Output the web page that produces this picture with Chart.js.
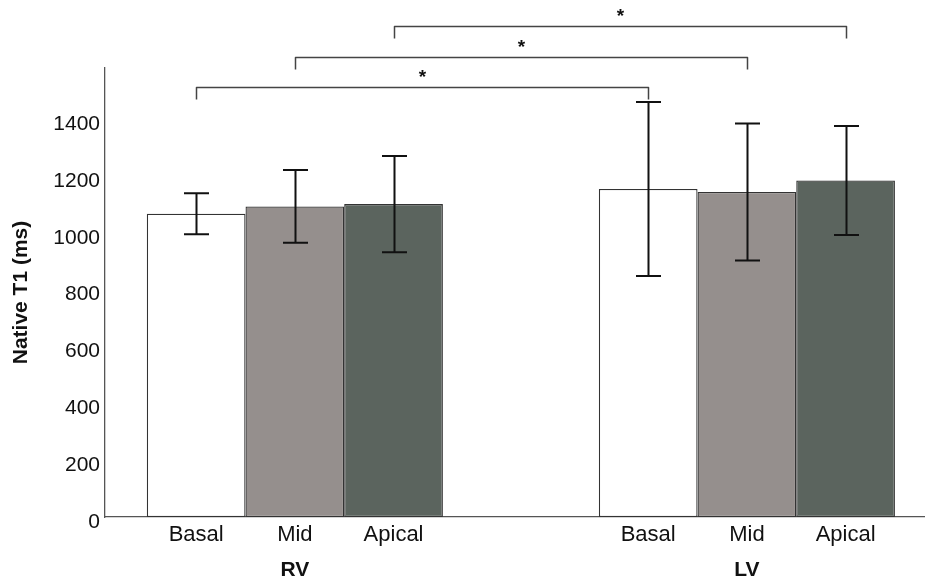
<!DOCTYPE html>
<html>
<head>
<meta charset="utf-8">
<script src="https://cdn.jsdelivr.net/npm/chart.js@4/dist/chart.umd.min.js"></script>
<style>
  html, body { margin: 0; padding: 0; background: #ffffff; }
  #wrap { width: 925px; height: 583px; }
</style>
</head>
<body>
<div id="wrap"><canvas id="c" width="925" height="583"></canvas></div>
<script>
// ---- data ----
const groups = ['RV', 'LV'];
const segments = ['Basal', 'Mid', 'Apical'];
const basalMean = [1067, 1154];
const basalSD = [72, 306];
const midMean = [1093, 1144];
const midSD = [128, 241];
const apicalMean = [1101, 1184];
const apicalSD = [169, 192];
const yTicks = [0, 200, 400, 600, 800, 1000, 1200, 1400];
// significance pairs: same segment, RV vs LV
const sigPairs = [
  { segment: 0, label: '*' },
  { segment: 1, label: '*' },
  { segment: 2, label: '*' }
];

const means = [basalMean, midMean, apicalMean];
const sds = [basalSD, midSD, apicalSD];
const fills = ['#ffffff', '#958f8d', '#5b645e'];
const FONT = '"Liberation Sans", Arial, Helvetica, sans-serif';
const X_MIN = -0.42, X_MAX = 1.394;

const datasets = segments.map((s, k) => ({
  label: s,
  data: means[k].map((v, i) => ({ x: i, y: v })),
  sd: sds[k],
  backgroundColor: fills[k],
  borderColor: '#333333',
  borderWidth: 1.3,
  borderSkipped: false,
  categoryPercentage: 0.655,
  barPercentage: 1.0
}));

const annotPlugin = {
  id: 'annot',
  afterDatasetsDraw(chart) {
    const ctx = chart.ctx;
    const y = chart.scales.y;
    ctx.save();
    ctx.strokeStyle = '#111111';
    ctx.lineWidth = 2;
    chart.data.datasets.forEach((ds, k) => {
      const meta = chart.getDatasetMeta(k);
      meta.data.forEach((bar, i) => {
        const m = ds.data[i].y, sd = ds.sd[i];
        const yt = y.getPixelForValue(m + sd);
        const yb = y.getPixelForValue(m - sd);
        const cx = Math.round(bar.x) + 0.5;
        ctx.beginPath();
        ctx.moveTo(cx, yt); ctx.lineTo(cx, yb);
        ctx.moveTo(cx - 12.5, yt); ctx.lineTo(cx + 12.5, yt);
        ctx.moveTo(cx - 12.5, yb); ctx.lineTo(cx + 12.5, yb);
        ctx.stroke();
      });
    });
    ctx.restore();
  },
  afterDraw(chart, args, opts) {
    const ctx = chart.ctx;
    const ca = chart.chartArea;
    ctx.save();
    // segment labels under bars
    ctx.fillStyle = '#111111';
    ctx.font = '22px ' + FONT;
    ctx.textAlign = 'center';
    ctx.textBaseline = 'middle';
    chart.data.datasets.forEach((ds, k) => {
      chart.getDatasetMeta(k).data.forEach(bar => {
        ctx.fillText(ds.label, bar.x, ca.bottom + 18);
      });
    });
    // significance brackets
    ctx.strokeStyle = '#444444';
    ctx.lineWidth = 1.5;
    ctx.lineJoin = 'round';
    sigPairs.forEach((p, n) => {
      const meta = chart.getDatasetMeta(p.segment);
      const x1 = Math.round(meta.data[0].x) + 0.5;
      const x2 = Math.round(meta.data[1].x) + 0.5;
      const yl = Math.round(ca.top + opts.firstOffset - n * opts.step) + 0.5;
      ctx.beginPath();
      ctx.moveTo(x1, yl + opts.leg);
      ctx.lineTo(x1, yl);
      ctx.lineTo(x2, yl);
      ctx.lineTo(x2, yl + opts.leg);
      ctx.stroke();
      ctx.fillStyle = '#111111';
      ctx.font = 'bold 19px ' + FONT;
      ctx.textBaseline = 'middle';
      ctx.fillText(p.label, (x1 + x2) / 2, yl - 10);
    });
    ctx.restore();
  }
};

new Chart(document.getElementById('c'), {
  type: 'bar',
  data: { datasets },
  options: {
    responsive: false,
    animation: false,
    events: [],
    devicePixelRatio: 1,
    layout: { padding: { top: 68, right: 0, left: 0, bottom: 0 } },
    plugins: {
      legend: { display: false },
      tooltip: { enabled: false },
      annot: { firstOffset: 19, step: 30.5, leg: 12 }
    },
    scales: {
      x: {
        type: 'linear',
        min: X_MIN,
        max: X_MAX,
        offset: false,
        bounds: 'data',
        grid: { display: false, offset: false },
        border: { display: true, color: '#555555', width: 1.3 },
        afterDataLimits: (scale) => { scale.min = X_MIN; scale.max = X_MAX; },
        afterBuildTicks: (scale) => { scale.ticks = groups.map((g, i) => ({ value: i })); },
        afterFit: (scale) => { scale.height = 66; },
        ticks: {
          autoSkip: false,
          maxRotation: 0,
          padding: 33,
          color: '#111111',
          font: { family: FONT, size: 21, weight: 'bold' },
          callback: (v) => groups[v] ?? ''
        }
      },
      y: {
        min: 0,
        max: 1580,
        grid: { display: false, drawTicks: false },
        border: { display: true, color: '#555555', width: 1.3 },
        afterBuildTicks: (scale) => { scale.ticks = yTicks.map(v => ({ value: v })); },
        afterFit: (scale) => { scale.width = 105; },
        title: {
          display: true,
          text: 'Native T1 (ms)',
          color: '#111111',
          font: { family: FONT, size: 21, weight: 'bold' },
          padding: { top: 9, bottom: 0 }
        },
        ticks: {
          padding: 5,
          labelOffset: 5,
          color: '#111111',
          font: { family: FONT, size: 21 },
          callback: (v) => String(v)
        }
      }
    }
  },
  plugins: [annotPlugin]
});
</script>
</body>
</html>
